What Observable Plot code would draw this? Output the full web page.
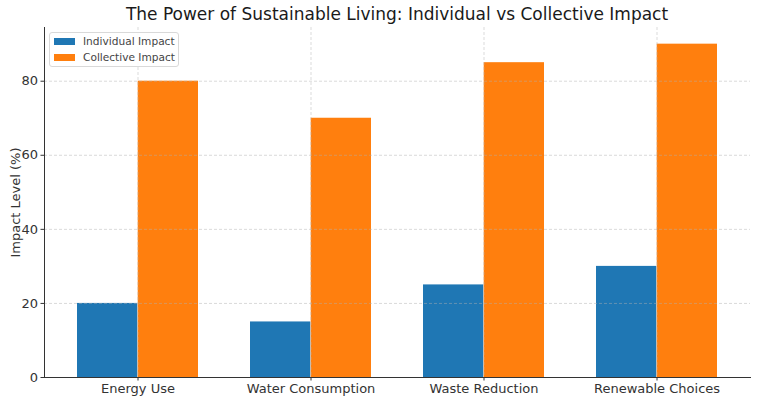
<!DOCTYPE html>
<html>
<head>
<meta charset="utf-8">
<script src="https://cdn.jsdelivr.net/npm/d3@7"></script>
<script src="https://cdn.jsdelivr.net/npm/@observablehq/plot@0.6"></script>
<style>
  html, body { margin: 0; padding: 0; background: #fff; }
  #chart { position: relative; width: 758px; height: 401px; font-family: "DejaVu Sans", sans-serif; }
  #title { position: absolute; left: 44px; width: 706px; top: 4px; text-align: center; font-size: 17px; color: #1a1a1a; }
  #legend { position: absolute; left: 49px; top: 32px; width: 128px; height: 33px; border: 1px solid #d9d9d9; border-radius: 3px; background: rgba(255,255,255,0.85); font-size: 10.6px; color: #444; }
  .item { position: absolute; left: 4px; display: flex; align-items: center; height: 14px; white-space: nowrap; }
  .sw { width: 21px; height: 7px; margin-right: 8px; flex: none; }
</style>
</head>
<body>
<div id="chart">
  <div id="title"></div>
  <div id="legend"></div>
</div>
<script>
// Categories, series and values
const categories = ["Energy Use", "Water Consumption", "Waste Reduction", "Renewable Choices"];
const seriesNames = ["Individual Impact", "Collective Impact"];
const individual = [20, 15, 25, 30];
const collective = [80, 70, 85, 90];
const yTicks = [0, 20, 40, 60, 80];
const colors = ["#1f77b4", "#ff7f0e"];
const titleText = "The Power of Sustainable Living: Individual vs Collective Impact";
const yLabel = "Impact Level (%)";

const W = 758, H = 401, mL = 44, mR = 8, mT = 27, mB = 24;

// Band scale over categories; each group of two bars fills one band
const xOptions = {domain: categories, paddingInner: 0.3, paddingOuter: 0.185, range: [mL, W - mR]};
const half = Plot.scale({x: {type: "band", ...xOptions}}).bandwidth / 2;

const indRows = categories.map((c, i) => ({category: c, series: seriesNames[0], value: individual[i]}));
const colRows = categories.map((c, i) => ({category: c, series: seriesNames[1], value: collective[i]}));

const gridStyle = {stroke: "#b0b0b0", strokeOpacity: 0.6, strokeDasharray: "3,2", strokeWidth: 0.8};

const chart = Plot.plot({
  width: W,
  height: H,
  marginLeft: mL,
  marginRight: mR,
  marginTop: mT,
  marginBottom: mB,
  style: {fontFamily: "DejaVu Sans, sans-serif", fontSize: "13px", color: "#333", background: "transparent"},
  x: {type: "band", ...xOptions, label: null},
  y: {domain: [0, 94.5], label: null},
  color: {domain: seriesNames, range: colors},
  marks: [
    Plot.barY(indRows, {x: "category", y: "value", fill: "series", insetRight: half}),
    Plot.barY(colRows, {x: "category", y: "value", fill: "series", insetLeft: half}),
    Plot.gridY(yTicks, gridStyle),
    Plot.gridX(categories, gridStyle),
    Plot.axisY(yTicks, {tickSize: 3.5, tickPadding: 3, label: yLabel, labelArrow: false, labelAnchor: "center", labelOffset: 34, stroke: "#333", fill: "#333"}),
    Plot.axisX(categories, {tickSize: 3.5, tickPadding: 3, label: null, stroke: "#333", fill: "#333"}),
    Plot.frame({anchor: "left", stroke: "#333"}),
    Plot.frame({anchor: "bottom", stroke: "#333"})
  ]
});
document.getElementById("chart").prepend(chart);
chart.style.position = "absolute";
chart.style.left = "0";
chart.style.top = "0";

document.getElementById("title").textContent = titleText;
const legend = document.getElementById("legend");
seriesNames.forEach((name, i) => {
  const item = document.createElement("div");
  item.className = "item";
  item.style.top = (1 + i * 16) + "px";
  const sw = document.createElement("span");
  sw.className = "sw";
  sw.style.background = colors[i];
  const label = document.createElement("span");
  label.textContent = name;
  item.append(sw, label);
  legend.append(item);
});
</script>
</body>
</html>
